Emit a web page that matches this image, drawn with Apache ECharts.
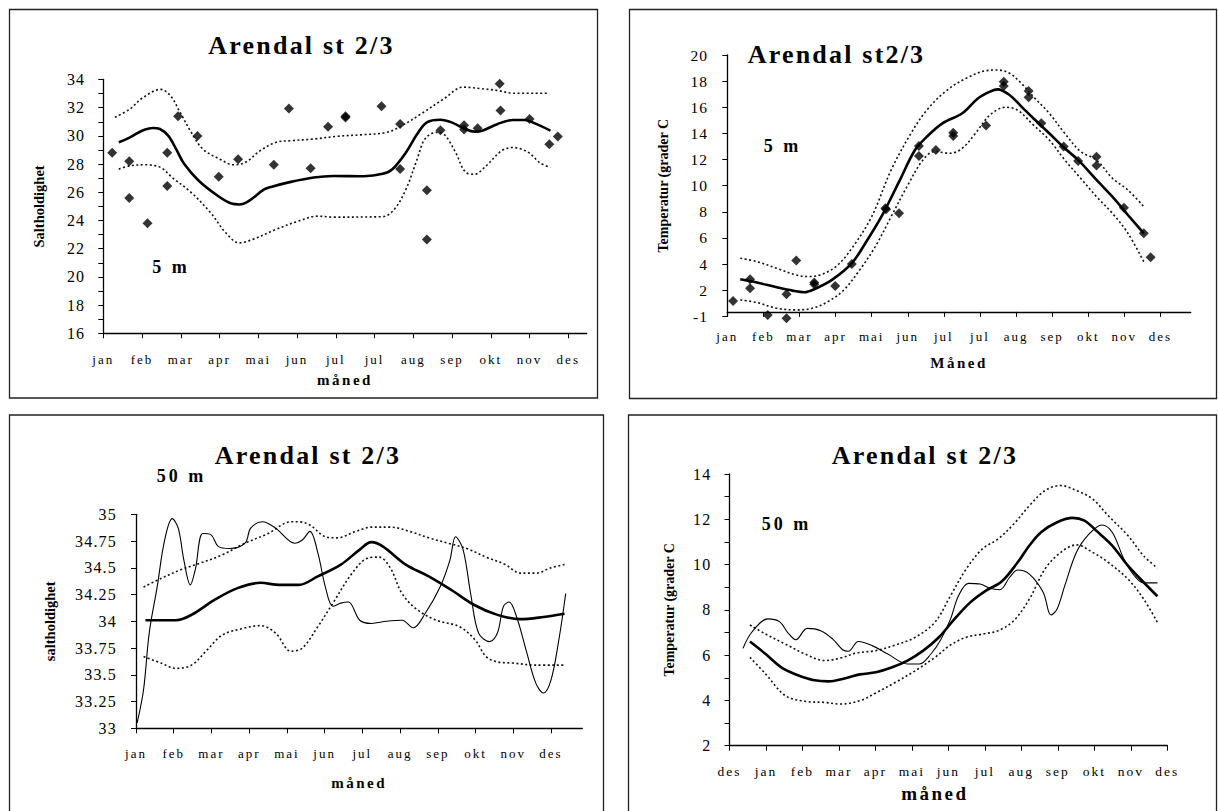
<!DOCTYPE html>
<html><head><meta charset="utf-8">
<script src="https://cdn.jsdelivr.net/npm/echarts@6.0.0/dist/echarts.min.js"></script>
<style>
html,body{margin:0;padding:0;background:#fff}
#c{width:1218px;height:811px}
/* letter spacing of the original scan, keyed on font size */
#c svg text[style*="26px"]{letter-spacing:2.2px}
#c svg text[style*="18px"]{letter-spacing:3px}
#c svg text[style*="15px"],#c svg text[style*="19px"]{letter-spacing:2.5px}
#c svg text[style*="13px"],#c svg text[style*="13.5px"]{letter-spacing:2px}
#c svg text[style*="16px"],#c svg text[style*="15.5px"]{letter-spacing:1.2px}
</style>
</head><body><div id="c"></div>
<script>
// ---------- DATA ----------
// x = month position (0 = first tick), y = value
const monthsA = ['jan','feb','mar','apr','mai','jun','jul','jul','aug','sep','okt','nov','des'];
const monthsB = ['jan','feb','mar','apr','mai','jun','jul','aug','sep','okt','nov','des'];
const monthsC = ['des','jan','feb','mar','apr','mai','jun','jul','aug','sep','okt','nov','des'];

const sal5YLabels = [16,18,20,22,24,26,28,30,32,34];
const sal5YTicks = [16,17,18,19,20,21,22,23,24,25,26,27,28,29,30,31,32,33,34];
const tmp5YTickVals = [0,2,4,6,8,10,12,14,16,18,20];
const tmp5YLabels = ['-1','2','4','6','8','10','12','14','16','18','20'];
const sal50YLabels = [33,33.25,33.5,33.75,34,34.25,34.5,34.75,35];
const tmp50YLabels = [2,4,6,8,10,12,14];
const tmp50YTicks = [2,3,4,5,6,7,8,9,10,11,12,13,14];

// Panel 1: Saltholdighet 5 m
const sal5Obs = [[0.23,28.8],[0.67,28.2],[0.67,25.6],[1.14,23.8],[1.65,28.8],[1.65,26.45],[1.93,31.4],[2.43,30.0],[2.98,27.1],[3.48,28.35],[4.40,27.95],[4.79,31.95],[5.35,27.7],[5.80,30.65],[6.25,31.4],[6.25,31.3],[7.18,32.1],[7.66,30.85],[7.66,27.65],[8.35,26.15],[8.35,22.65],[8.70,30.4],[9.31,30.75],[9.31,30.45],[9.66,30.55],[10.23,33.7],[10.25,31.8],[11.0,31.2],[11.51,29.4],[11.73,29.95]];
const sal5Mean = [[0.40,29.55],[0.69,29.9],[1.0,30.37],[1.28,30.56],[1.46,30.49],[1.68,30.0],[1.88,29.06],[2.09,28.0],[2.47,26.8],[2.96,25.74],[3.31,25.2],[3.51,25.14],[3.75,25.38],[4.15,26.2],[4.35,26.4],[4.84,26.74],[5.43,27.05],[5.93,27.16],[6.72,27.14],[7.21,27.31],[7.46,27.64],[7.81,28.83],[8.10,30.13],[8.35,30.96],[8.70,31.15],[8.99,30.96],[9.34,30.49],[9.58,30.3],[9.78,30.37],[10.18,30.85],[10.57,31.13],[10.87,31.13],[11.17,30.85],[11.54,30.37]];
const sal5Upper = [[0.30,31.32],[0.69,31.91],[1.0,32.67],[1.48,33.3],[1.73,32.86],[1.98,31.68],[2.27,30.25],[2.57,29.06],[3.01,28.35],[3.36,27.95],[3.66,28.11],[4.05,28.95],[4.45,29.54],[4.84,29.66],[5.43,29.78],[6.03,29.97],[6.72,30.09],[7.31,30.25],[7.71,30.73],[8.20,31.56],[8.79,32.63],[9.29,33.46],[9.78,33.34],[10.18,33.22],[10.57,33.03],[11.51,33.03]];
const sal5Lower = [[0.40,27.64],[0.69,27.88],[1.09,27.95],[1.48,27.76],[1.78,27.05],[2.27,25.98],[2.77,24.55],[3.16,23.13],[3.51,22.41],[3.85,22.65],[4.45,23.36],[5.04,23.96],[5.53,24.31],[5.93,24.24],[7.21,24.27],[7.51,24.79],[7.81,26.21],[8.10,28.35],[8.30,29.78],[8.60,30.25],[8.79,30.13],[9.09,28.83],[9.34,27.45],[9.58,27.28],[9.88,27.88],[10.28,28.95],[10.57,29.18],[10.97,28.83],[11.26,28.11],[11.54,27.76]];

// Panel 2: Temperatur 5 m
const tmp5Obs = [[0.16,1.18],[0.63,2.84],[0.63,2.15],[1.12,0.11],[1.64,1.69],[1.64,-0.14],[1.91,4.27],[2.41,2.59],[2.41,2.46],[2.99,2.33],[3.45,4.01],[4.38,8.27],[4.40,8.2],[4.76,7.89],[5.31,13.04],[5.31,12.28],[5.78,12.73],[6.26,14.06],[6.26,13.8],[7.17,14.6],[7.66,17.96],[7.66,17.63],[8.35,17.25],[8.35,16.76],[8.70,14.77],[9.32,12.99],[9.72,11.89],[10.23,12.22],[10.23,11.54],[10.99,8.32],[11.54,6.36],[11.73,4.52]];
const tmp5Mean = [[0.36,2.84],[0.82,2.59],[1.37,2.23],[1.81,1.97],[2.13,1.85],[2.41,2.08],[2.90,2.79],[3.45,4.07],[3.88,5.85],[4.32,7.89],[4.76,10.31],[5.20,12.73],[5.53,13.75],[5.96,14.77],[6.51,15.54],[6.95,16.69],[7.28,17.2],[7.49,17.37],[7.82,16.94],[8.15,16.05],[8.48,15.16],[8.92,14.01],[9.35,12.86],[9.72,11.97],[10.23,10.44],[10.67,9.16],[11.1,7.76],[11.54,6.36]];
const tmp5Upper = [[0.36,4.45],[0.82,4.19],[1.37,3.68],[1.91,3.17],[2.24,3.05],[2.57,3.17],[3.01,3.81],[3.45,5.21],[4.0,7.63],[4.54,11.2],[5.09,14.01],[5.53,15.79],[6.07,17.27],[6.62,18.22],[7.17,18.8],[7.49,18.85],[7.82,18.6],[8.15,17.83],[8.48,16.81],[8.92,15.54],[9.35,14.01],[9.79,12.61],[10.23,11.97],[10.67,10.57],[11.1,9.67],[11.54,8.4]];
const tmp5Lower = [[0.36,1.26],[0.82,1.06],[1.37,0.62],[1.91,0.5],[2.35,0.62],[2.79,1.13],[3.23,2.03],[3.67,3.56],[4.10,5.34],[4.54,7.63],[4.98,9.93],[5.42,11.97],[5.74,12.61],[6.18,12.48],[6.51,12.86],[6.84,13.88],[7.28,15.41],[7.71,16.0],[8.04,15.79],[8.48,14.65],[8.92,13.5],[9.35,11.97],[9.79,10.57],[10.23,9.16],[10.67,7.89],[11.1,6.36],[11.54,4.19]];

// Panel 3: saltholdighet 50 m
const sal50Mean = [[0.25,34.01],[1.06,34.01],[1.47,34.06],[2.08,34.2],[2.69,34.31],[3.30,34.36],[3.80,34.34],[4.31,34.34],[4.82,34.42],[5.43,34.53],[5.93,34.67],[6.24,34.74],[6.54,34.70],[7.15,34.53],[7.76,34.42],[8.37,34.29],[8.98,34.15],[9.58,34.06],[10.19,34.02],[10.80,34.04],[11.36,34.07]];
const sal50Obs = [[0.03,33.05],[0.2,33.36],[0.35,33.89],[0.56,34.32],[0.76,34.76],[0.96,34.96],[1.12,34.87],[1.27,34.57],[1.44,34.34],[1.57,34.48],[1.77,34.82],[1.98,34.81],[2.18,34.70],[2.48,34.68],[2.89,34.73],[3.04,34.87],[3.35,34.93],[3.70,34.87],[4.21,34.73],[4.41,34.76],[4.61,34.84],[4.82,34.64],[5.02,34.32],[5.22,34.14],[5.43,34.17],[5.63,34.18],[5.93,34.01],[6.24,33.98],[6.64,34.0],[7.05,34.01],[7.35,33.94],[7.66,34.07],[8.06,34.32],[8.32,34.57],[8.47,34.79],[8.67,34.67],[8.87,34.26],[9.08,33.89],[9.38,33.81],[9.58,33.89],[9.74,34.14],[9.89,34.18],[10.09,34.04],[10.34,33.73],[10.6,33.42],[10.80,33.33],[11.0,33.45],[11.21,33.83],[11.39,34.26]];
const sal50Upper = [[0.2,34.32],[0.66,34.4],[1.17,34.48],[1.67,34.54],[2.28,34.62],[2.89,34.73],[3.50,34.82],[4.11,34.93],[4.31,34.93],[4.61,34.9],[5.02,34.79],[5.32,34.78],[5.83,34.84],[6.24,34.88],[6.75,34.88],[7.25,34.84],[7.76,34.78],[8.27,34.73],[8.77,34.68],[9.28,34.6],[9.79,34.53],[10.19,34.45],[10.6,34.45],[11.0,34.5],[11.36,34.53]];
const sal50Lower = [[0.2,33.67],[0.66,33.61],[1.06,33.56],[1.47,33.59],[1.88,33.73],[2.28,33.87],[2.79,33.93],[3.30,33.96],[3.70,33.89],[4.11,33.72],[4.41,33.75],[4.82,33.95],[5.22,34.17],[5.73,34.45],[6.14,34.59],[6.44,34.6],[6.74,34.5],[7.05,34.26],[7.45,34.11],[7.96,34.01],[8.57,33.95],[8.98,33.83],[9.28,33.67],[9.58,33.62],[9.99,33.61],[10.6,33.59],[11.36,33.59]];

// Panel 4: Temperatur 50 m
const tmp50Mean = [[0.56,6.6],[0.99,6.05],[1.42,5.46],[1.86,5.12],[2.29,4.9],[2.72,4.84],[3.15,4.97],[3.58,5.15],[4.01,5.24],[4.44,5.45],[4.88,5.76],[5.31,6.2],[5.74,6.79],[6.17,7.6],[6.60,8.33],[7.03,8.85],[7.46,9.25],[7.90,10.1],[8.22,10.84],[8.54,11.43],[8.98,11.87],[9.41,12.06],[9.73,11.94],[10.05,11.5],[10.49,10.84],[10.92,9.95],[11.35,9.22],[11.73,8.6]];
const tmp50Obs = [[0.37,6.3],[0.61,7.01],[1.05,7.6],[1.37,7.48],[1.59,7.01],[1.82,6.68],[2.13,7.18],[2.50,7.08],[2.83,6.71],[3.10,6.24],[3.26,6.17],[3.53,6.6],[3.91,6.42],[4.34,6.05],[4.88,5.61],[5.20,5.61],[5.52,6.05],[5.79,6.68],[6.06,7.6],[6.28,8.63],[6.55,9.17],[6.87,9.14],[7.14,8.95],[7.41,8.89],[7.68,9.44],[7.90,9.76],[8.22,9.58],[8.60,8.77],[8.81,7.77],[8.98,8.04],[9.19,9.07],[9.51,10.54],[9.84,11.32],[10.21,11.75],[10.49,11.43],[10.81,10.25],[11.08,9.54],[11.35,9.19],[11.73,9.19]];
const tmp50Upper = [[0.56,7.33],[0.99,6.93],[1.53,6.49],[2.07,6.05],[2.61,5.76],[3.04,5.87],[3.47,6.09],[4.01,6.2],[4.55,6.45],[5.09,6.79],[5.63,7.45],[6.06,8.63],[6.49,9.81],[6.93,10.69],[7.36,11.13],[7.79,11.79],[8.22,12.6],[8.65,13.27],[9.08,13.49],[9.51,13.27],[9.95,12.9],[10.38,12.16],[10.92,11.28],[11.35,10.39],[11.73,9.84]];
const tmp50Lower = [[0.56,5.9],[0.99,5.17],[1.53,4.21],[2.07,3.96],[2.61,3.91],[3.04,3.84],[3.58,3.99],[4.01,4.33],[4.55,4.8],[5.09,5.31],[5.63,5.9],[6.06,6.45],[6.49,6.79],[6.93,6.93],[7.36,7.08],[7.79,7.52],[8.22,8.48],[8.65,9.81],[9.08,10.54],[9.51,10.87],[9.95,10.54],[10.38,10.1],[10.92,9.36],[11.35,8.48],[11.73,7.45]];

// ---------- CHART ----------
const FONT = '"Liberation Serif", "Times New Roman", serif';
const BLACK = '#000';
const idx = n => Array.from({length: n}, (_, i) => i);

function xAxis(gi, max, labels, o) {
  return {
    type: 'value', gridIndex: gi, min: 0, max: max,
    name: o.name, nameLocation: 'middle', nameGap: o.nameGap,
    nameTextStyle: { fontFamily: FONT, fontWeight: 'bold', fontSize: o.nameSize, color: BLACK, padding: o.namePad || 0 },
    offset: o.offset || 0,
    splitLine: { show: false },
    axisLine: { show: true, onZero: false, lineStyle: { color: BLACK, width: 1.3 } },
    axisTick: { show: true, inside: false, length: 5, lineStyle: { color: BLACK }, customValues: idx(labels.length) },
    axisLabel: { customValues: idx(labels.length), formatter: v => labels[Math.round(v)], fontFamily: FONT, fontSize: o.labelSize, color: BLACK, margin: o.labelMargin, hideOverlap: false }
  };
}
function yAxis(gi, min, max, labelVals, tickVals, o) {
  return {
    type: 'value', gridIndex: gi, min: min, max: max,
    name: o.name, nameLocation: 'middle', nameGap: o.nameGap, nameRotate: 90,
    nameTextStyle: { fontFamily: FONT, fontWeight: 'bold', fontSize: o.nameSize, color: BLACK },
    splitLine: { show: false },
    axisLine: { show: true, onZero: false, lineStyle: { color: BLACK, width: 1.3 } },
    axisTick: { show: true, inside: false, length: 5, lineStyle: { color: BLACK }, customValues: tickVals },
    axisLabel: { customValues: labelVals, formatter: o.fmt || (v => String(v)), fontFamily: FONT, fontSize: o.labelSize, color: BLACK, margin: o.labelMargin, hideOverlap: false }
  };
}
function meanLine(gi, data) {
  return { type: 'line', xAxisIndex: gi, yAxisIndex: gi, data: data, smooth: 0.35, showSymbol: false, silent: true,
    lineStyle: { color: BLACK, width: 2.6 } };
}
function thinLine(gi, data) {
  return { type: 'line', xAxisIndex: gi, yAxisIndex: gi, data: data, smooth: 0.35, showSymbol: false, silent: true,
    lineStyle: { color: BLACK, width: 1.1 } };
}
function dotLine(gi, data) {
  return { type: 'line', xAxisIndex: gi, yAxisIndex: gi, data: data, smooth: 0.35, showSymbol: false, silent: true,
    lineStyle: { color: '#111', width: 1.6, type: [2, 2.5] } };
}
function obs(gi, data) {
  return { type: 'scatter', xAxisIndex: gi, yAxisIndex: gi, data: data, symbol: 'diamond', symbolSize: [10, 10],
    clip: false, silent: true, itemStyle: { color: BLACK } };
}
function txt(x, y, text, size) {
  return { type: 'text', x: x, y: y, silent: true, style: { text: text, fontFamily: FONT, fontWeight: 'bold', fontSize: size,
    fill: BLACK, align: 'center', verticalAlign: 'middle' } };
}
function frame(x, y, w, h) {
  return { type: 'rect', silent: true, shape: { x: x, y: y, width: w, height: h },
    style: { fill: null, stroke: '#222', lineWidth: 1.3 }, z: -1 };
}

const chart = echarts.init(document.getElementById('c'), null, { renderer: 'svg', width: 1218, height: 811 });
chart.setOption({
  animation: false,
  backgroundColor: '#fff',
  grid: [
    { left: 103.3, top: 79.5, width: 483.4, height: 253.8 },
    { left: 727.3, top: 55, width: 463.4, height: 261.4 },
    { left: 136, top: 514.3, width: 446.3, height: 214 },
    { left: 729.5, top: 474, width: 437.8, height: 271.7 }
  ],
  xAxis: [
    xAxis(0, 12.475, monthsA, { name: 'måned', nameGap: 39, nameSize: 15, labelSize: 13, labelMargin: 20 }),
    xAxis(1, 12.84, monthsA, { name: 'Måned', nameGap: 44, nameSize: 15, labelSize: 13, labelMargin: 18, offset: -4.5 }),
    xAxis(2, 11.83, monthsB, { name: 'måned', nameGap: 47, nameSize: 15, labelSize: 13, labelMargin: 19 }),
    xAxis(3, 12, monthsC, { name: 'måned', nameGap: 38, nameSize: 19, labelSize: 13.5, labelMargin: 19, namePad: [0, 27, 0, 0] })
  ],
  yAxis: [
    yAxis(0, 16, 34, sal5YLabels, sal5YTicks, { name: 'Saltholdighet', nameGap: 57, nameSize: 14.5, labelSize: 16, labelMargin: 18 }),
    yAxis(1, 0, 20, tmp5YTickVals, tmp5YTickVals, { name: 'Temperatur (grader C', nameGap: 57, nameSize: 14, labelSize: 15.5, labelMargin: 19,
      fmt: v => tmp5YLabels[tmp5YTickVals.indexOf(Math.round(v))] }),
    yAxis(2, 33, 35, sal50YLabels, sal50YLabels, { name: 'saltholdighet', nameGap: 79, nameSize: 14.5, labelSize: 16, labelMargin: 19 }),
    yAxis(3, 2, 14, tmp50YLabels, tmp50YTicks, { name: 'Temperatur (grader C', nameGap: 53, nameSize: 14, labelSize: 16, labelMargin: 18 })
  ],
  series: [
    dotLine(0, sal5Upper), dotLine(0, sal5Lower), meanLine(0, sal5Mean), obs(0, sal5Obs),
    dotLine(1, tmp5Upper), dotLine(1, tmp5Lower), meanLine(1, tmp5Mean), obs(1, tmp5Obs),
    dotLine(2, sal50Upper), dotLine(2, sal50Lower), thinLine(2, sal50Obs), meanLine(2, sal50Mean),
    dotLine(3, tmp50Upper), dotLine(3, tmp50Lower), thinLine(3, tmp50Obs), meanLine(3, tmp50Mean)
  ],
  graphic: [
    frame(9.5, 9.5, 588, 388.5),
    frame(629.5, 9.5, 587, 389),
    frame(9.5, 415, 594, 420),
    frame(628.5, 415, 588, 420),
    txt(301.5, 45, 'Arendal st 2/3', 26),
    txt(836.5, 54, 'Arendal st2/3', 26),
    txt(308, 455, 'Arendal st 2/3', 26),
    txt(925, 455, 'Arendal st 2/3', 26),
    txt(171, 267, '5 m', 18),
    txt(782.5, 146, '5 m', 18),
    txt(181.5, 476, '50 m', 18),
    txt(786.5, 524, '50 m', 18)
  ]
});
</script></body></html>
